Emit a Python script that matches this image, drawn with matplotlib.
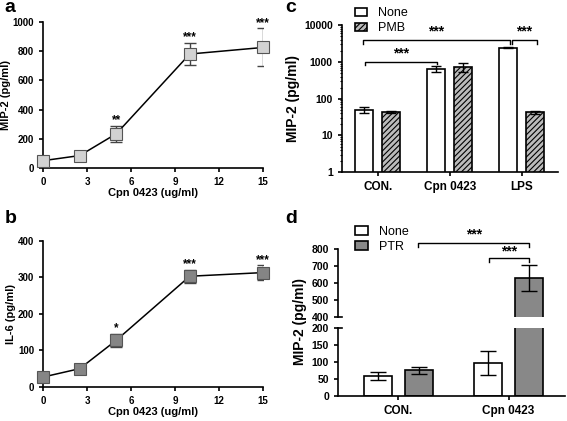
import numpy as np
import matplotlib.pyplot as plt

plt.rcParams['font.family'] = ['Liberation Sans', 'DejaVu Sans']
plt.rcParams['font.weight'] = 'bold'
plt.rcParams['hatch.linewidth'] = 0.8

# panel a / b: dose response
dose = [0, 2.5, 5, 10, 15]
mip2_mean = [50, 85, 235, 780, 825]
mip2_err = [12, 10, 55, 78, 130]
mip2_sig = ['', '', '**', '***', '***']
il6_mean = [27, 50, 128, 303, 313]
il6_err = [8, 13, 18, 18, 20]
il6_sig = ['', '', '*', '***', '***']

# panel c: PMB
c_groups = ['CON.', 'Cpn 0423', 'LPS']
c_none = [50, 640, 2450]
c_none_err = [10, 120, 120]
c_pmb = [43, 740, 43]
c_pmb_err = [3, 200, 4]

# panel d: PTR
d_groups = ['CON.', 'Cpn 0423']
d_none = [58, 98]
d_none_err = [12, 35]
d_ptr = [76, 630]
d_ptr_err = [10, 75]

fig = plt.figure(figsize=(5.67, 4.21), dpi=100)


def style(ax, size=7.5):
    for s in ['top', 'right']:
        ax.spines[s].set_visible(False)
    for s in ['left', 'bottom']:
        ax.spines[s].set_linewidth(1.2)
    ax.tick_params(labelsize=size, width=1.2, length=3)
    for lab in ax.get_xticklabels() + ax.get_yticklabels():
        lab.set_fontweight('bold')


def dose_panel(rect, mean, err, sig, fc, ylim, yticks, ylabel):
    ax = fig.add_axes(rect)
    ax.errorbar(dose, mean, yerr=err, fmt='none', ecolor='#444444',
                elinewidth=1, capsize=4, zorder=2)
    ax.plot(dose, mean, color='black', lw=1.1, marker='s', ms=8, mfc=fc,
            mec='#555555', mew=0.8, zorder=3, clip_on=False)
    for x, m, e, s in zip(dose, mean, err, sig):
        if s:
            ax.text(x, m + e - ylim * 0.005, s, ha='center', va='bottom',
                    fontsize=8.5, clip_on=False)
    ax.set_xlim(0, 15)
    ax.set_ylim(0, ylim)
    ax.set_xticks([0, 3, 6, 9, 12, 15])
    ax.set_yticks(yticks)
    ax.set_xlabel('Cpn 0423 (ug/ml)', fontsize=8, fontweight='bold', labelpad=1)
    ax.set_ylabel(ylabel, fontsize=8, fontweight='bold', labelpad=1)
    style(ax, 7)
    return ax


dose_panel([0.076, 0.601, 0.388, 0.347], mip2_mean, mip2_err, mip2_sig,
           '#d2d2d2', 1000, [0, 200, 400, 600, 800, 1000], 'MIP-2 (pg/ml)')
dose_panel([0.076, 0.081, 0.388, 0.347], il6_mean, il6_err, il6_sig,
           '#858585', 400, [0, 100, 200, 300, 400], 'IL-6 (pg/ml)')


def bracket(ax, x1, x2, y, drop, label, ly, lx=None):
    ax.plot([x1, x1, x2, x2], [drop[0], y, y, drop[1]], color='black',
            lw=1, clip_on=False)
    ax.text((x1 + x2) / 2 if lx is None else lx, ly, label, ha='center',
            va='center', fontsize=10, clip_on=False)


legend_kw = dict(loc='upper left', fontsize=9, frameon=False,
                 handlelength=1.0, handleheight=0.7, labelspacing=0.25,
                 borderpad=0, handletextpad=0.9)

# panel c
axc = fig.add_axes([0.603, 0.591, 0.381, 0.349])
xc = np.arange(len(c_groups))
off, w = 0.1875, 0.25
axc.bar(xc - off, c_none, w, yerr=c_none_err, color='white', edgecolor='black',
        lw=1.2, capsize=3.5, error_kw=dict(elinewidth=1, capthick=1), label='None')
axc.bar(xc + off, c_pmb, w, yerr=c_pmb_err, color='#bbbbbb', edgecolor='black',
        hatch='//////', lw=1.2, capsize=3.5,
        error_kw=dict(elinewidth=1, capthick=1), label='PMB')
axc.set_yscale('log')
axc.set_ylim(1, 10000)
axc.set_xlim(-0.5, 2.5)
axc.set_yticks([1, 10, 100, 1000, 10000])
axc.set_yticklabels(['1', '10', '100', '1000', '10000'])
axc.set_xticks(xc)
axc.set_xticklabels(c_groups, fontsize=8.5)
axc.set_ylabel('MIP-2 (pg/ml)', fontsize=10, fontweight='bold', labelpad=3)
style(axc)
axc.tick_params(axis='x', labelsize=8.5)
axc.tick_params(axis='y', which='minor', length=1.8, width=0.8)
bracket(axc, -0.18, 0.82, 1000, (820, 860), '***', 1700)
bracket(axc, -0.21, 1.83, 4000, (3150, 3150), '***', 6600)
bracket(axc, 1.86, 2.21, 4000, (3150, 3150), '***', 6600, 2.035)
axc.legend(bbox_to_anchor=(0.03, 1.165), **legend_kw)
for t in axc.get_legend().get_texts():
    t.set_fontweight('normal')

# panel d (broken y axis)
axu = fig.add_axes([0.596, 0.247, 0.4, 0.162])
axl = fig.add_axes([0.596, 0.059, 0.4, 0.162])
xd = np.arange(len(d_groups))
for ax in (axu, axl):
    ax.bar(xd - off * 0.99, d_none, w, yerr=d_none_err, color='white',
           edgecolor='black', lw=1.2, capsize=6,
           error_kw=dict(elinewidth=1, capthick=1), label='None')
    ax.bar(xd + off * 0.99, d_ptr, w, yerr=d_ptr_err, color='#888888',
           edgecolor='black', lw=1.2, capsize=6,
           error_kw=dict(elinewidth=1, capthick=1), label='PTR')
    ax.set_xlim(-0.55, 1.51)
    style(ax)
axu.set_ylim(400, 800)
axu.set_yticks([400, 500, 600, 700, 800])
axu.spines['bottom'].set_visible(False)
axu.set_xticks([])
axl.set_ylim(0, 200)
axl.set_yticks([0, 50, 100, 150, 200])
axl.set_xticks(xd)
axl.set_xticklabels(d_groups, fontsize=8.5)
axl.tick_params(axis='x', labelsize=8.5)
axl.plot([0, 0.02], [1, 1], transform=axl.transAxes, color='black', lw=1.2,
         clip_on=False)
axu.plot([0, 0.02], [0, 0], transform=axu.transAxes, color='black', lw=1.2,
         clip_on=False)
fig.text(0.529, 0.237, 'MIP-2 (pg/ml)', fontsize=10, fontweight='bold',
         rotation=90, ha='center', va='center')
bracket(axu, 0.174, 1.187, 835, (812, 812), '***', 885, 0.69)
bracket(axu, 0.826, 1.187, 747, (723, 723), '***', 785, 1.0)
axu.legend(bbox_to_anchor=(0.048, 1.43), **legend_kw)
for t in axu.get_legend().get_texts():
    t.set_fontweight('normal')

# panel letters
for lx, ly, letter in [(0.008, 0.983, 'a'), (0.008, 0.482, 'b'),
                       (0.503, 0.983, 'c'), (0.503, 0.482, 'd')]:
    fig.text(lx, ly, letter, fontsize=14, fontweight='bold', va='center')

fig.savefig('out.png', dpi=100)
